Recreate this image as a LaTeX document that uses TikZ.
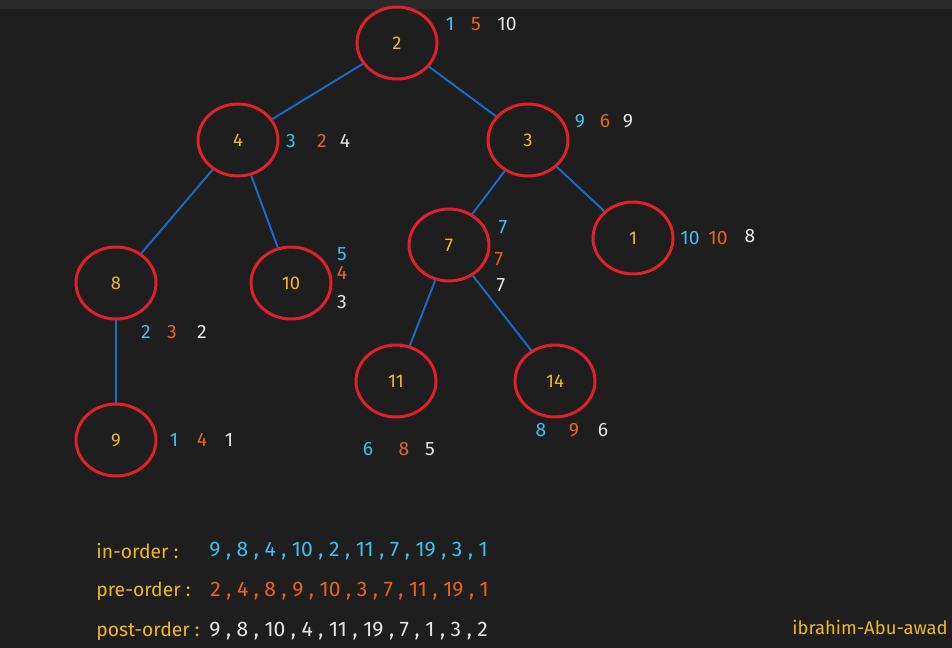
\documentclass[tikz,border=0pt]{standalone}
\usepackage{fontspec}
\setmainfont{Fira Sans}
\usetikzlibrary{shapes.geometric}
\definecolor{bgdark}{HTML}{1E1E1E}
\definecolor{topbar}{HTML}{2A2A2A}
\definecolor{ringred}{HTML}{E0202C}
\definecolor{edgeblue}{HTML}{1A6BC4}
\definecolor{keyyellow}{HTML}{F0B81C}
\definecolor{incyan}{HTML}{3CC0EC}
\definecolor{preorange}{HTML}{E8641C}
\definecolor{postwhite}{HTML}{E6E6E6}

\begin{document}
\begin{tikzpicture}[x=0.02cm,y=-0.02cm,
		vertex/.style={ellipse,draw=ringred,line width=1.7pt,minimum width=1.6cm,minimum height=1.44cm,inner sep=0pt,text=keyyellow,font=\fontsize{10.5}{12}\selectfont},
		branch/.style={draw=edgeblue,line width=1.1pt},
		tag/.style={inner sep=0pt,font=\fontsize{11}{13}\selectfont},
		intag/.style={tag,text=incyan},
		pretag/.style={tag,text=preorange},
		posttag/.style={tag,text=postwhite},
		listtag/.style={anchor=west,font=\fontsize{12}{14}\selectfont},
		caption/.style={tag,anchor=west,text=keyyellow}]
	
	% background
	\fill[bgdark] (0,0) rectangle (952,648);
	\fill[topbar] (0,0) rectangle (952,9);
	\useasboundingbox (0,0) rectangle (952,648);
	
	% tree nodes
	\node[vertex] (n2) at (397,43) {2};
	\node[vertex] (n4) at (238,140) {4};
	\node[vertex] (n3) at (528,140) {3};
	\node[vertex] (n8) at (116,283) {8};
	\node[vertex] (n10) at (291,283) {10};
	\node[vertex] (n7) at (449,245) {7};
	\node[vertex] (n1) at (633,238) {1};
	\node[vertex] (n9) at (116,440) {9};
	\node[vertex] (n11) at (396,381) {11};
	\node[vertex] (n14) at (555,381) {14};
	
	% edges
	\draw[branch] (n2) -- (n4);
	\draw[branch] (n2) -- (n3);
	\draw[branch] (n4) -- (n8);
	\draw[branch] (n4) -- (n10);
	\draw[branch] (n8) -- (n9);
	\draw[branch] (n3) -- (n7);
	\draw[branch] (n3) -- (n1);
	\draw[branch] (n7) -- (n11);
	\draw[branch] (n7) -- (n14);
	
	% visit numbers (in / pre / post)
	\node[intag] (n2in) at (450,24) {1};
	\node[pretag] (n2pre) at (476,24) {5};
	\node[posttag] (n2post) at (507,24) {10};
	
	\node[intag] (n4in) at (291,141) {3};
	\node[pretag] (n4pre) at (322,141) {2};
	\node[posttag] (n4post) at (345,141) {4};
	
	\node[intag] (n3in) at (580,121) {9};
	\node[pretag] (n3pre) at (605,121) {6};
	\node[posttag] (n3post) at (628,121) {9};
	
	\node[intag] (n7in) at (503,227) {7};
	\node[pretag] (n7pre) at (499,259) {7};
	\node[posttag] (n7post) at (501,285) {7};
	
	\node[intag] (n1in) at (690,238) {10};
	\node[pretag] (n1pre) at (718,238) {10};
	\node[posttag] (n1post) at (750,236) {8};
	
	\node[intag] (n8in) at (146,332) {2};
	\node[pretag] (n8pre) at (172,332) {3};
	\node[posttag] (n8post) at (202,332) {2};
	
	\node[intag] (n10in) at (342,254) {5};
	\node[pretag] (n10pre) at (342,273) {4};
	\node[posttag] (n10post) at (342,302) {3};
	
	\node[intag] (n9in) at (174,440) {1};
	\node[pretag] (n9pre) at (202,440) {4};
	\node[posttag] (n9post) at (229,440) {1};
	
	\node[intag] (n11in) at (368,449) {6};
	\node[pretag] (n11pre) at (404,449) {8};
	\node[posttag] (n11post) at (430,449) {5};
	
	\node[intag] (n14in) at (541,430) {8};
	\node[pretag] (n14pre) at (574,430) {9};
	\node[posttag] (n14post) at (603,430) {6};
	
	% traversal results
	\node[caption] (inlabel) at (96,551) {in-order :};
	\node[intag,listtag] (inlist) at (209,551) {9 , 8 , 4 , 10 , 2 , 11 , 7 , 19 , 3 , 1};
	\node[caption] (prelabel) at (96,591) {pre-order :};
	\node[pretag,listtag] (prelist) at (210,591) {2 , 4 , 8 , 9 , 10 , 3 , 7 , 11 , 19 , 1};
	\node[caption] (postlabel) at (96,631) {post-order :};
	\node[posttag,listtag] (postlist) at (209,631) {9 , 8 , 10 , 4 , 11 , 19 , 7 , 1 , 3 , 2};
	
	% signature
	\node[caption,anchor=east,font=\fontsize{10.5}{12}\selectfont] (author) at (948,627) {ibrahim-Abu-awad};
	
\end{tikzpicture}
\end{document}
